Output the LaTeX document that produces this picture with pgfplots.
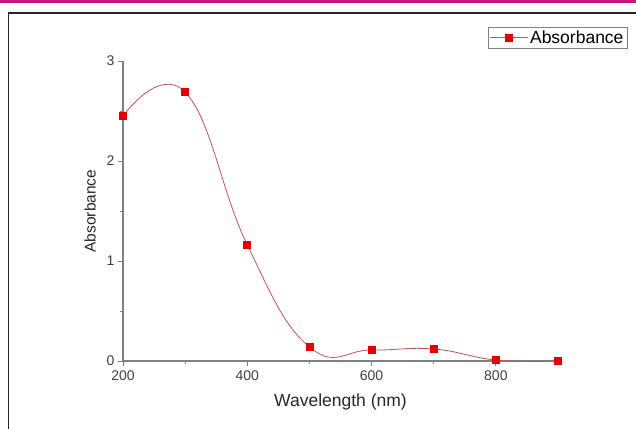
\documentclass[border=0pt]{standalone}
\usepackage{fontspec}
\setmainfont{Liberation Sans}
\usepackage{pgfplots}
\pgfplotsset{compat=1.18}
\definecolor{framepink}{HTML}{C2187A}
\definecolor{linered}{HTML}{C85050}
\definecolor{markred}{HTML}{E80000}
\begin{document}
\begin{tikzpicture}[x=1bp,y=1bp]
\path[use as bounding box] (0,0) rectangle (636,428);
\fill[framepink] (0,425) rectangle (636,427.5);
\draw[black!85, line width=1.3bp] (8.5,-5) -- (8.5,415) -- (641,415);
\begin{axis}[
  at={(123bp,67bp)}, anchor=south west,
  scale only axis, width=435bp, height=300bp,
  xmin=200, xmax=900, ymin=0, ymax=3,
  axis x line*=bottom, axis y line*=left,
  axis line style={-, gray, line width=1.3bp},
  xtick={200,400,600,800}, minor xtick={300,500,700},
  ytick={0,1,2,3}, minor ytick={0.5,1.5,2.5},
  tick align=outside,
  major tick length=5bp, minor tick length=3bp,
  tick style={gray, line width=1bp},
  /pgf/number format/assume math mode=true,
  ticklabel style={font=\fontsize{14bp}{16bp}\selectfont, text=black!75},
  xticklabel style={yshift=-1.5bp},
  xlabel={Wavelength (nm)},
  ylabel={Absorbance},
  xlabel style={font=\fontsize{17.5bp}{20bp}\selectfont, text=black!85, yshift=-6bp},
  ylabel style={font=\fontsize{15.5bp}{18bp}\selectfont, text=black!85, yshift=4bp},
  clip=false,
  legend style={at={(axis description cs:1.159,1.113)}, anchor=north east,
    draw=gray, fill=white, font=\fontsize{17.5bp}{20bp}\selectfont,
    inner sep=1.5bp, row sep=0pt},
  legend cell align=left,
  legend image code/.code={\draw[#1,mark repeat=2,mark phase=2] plot coordinates {(0bp,0bp)(19bp,0bp)(38bp,0bp)};},
]
\addplot[color=linered, line width=0.8bp, smooth, tension=0.75,
  mark=square*, mark size=3.5bp, mark options={fill=markred, draw=markred, solid}]
  coordinates {(200,2.45) (300,2.69) (400,1.16) (500,0.14) (600,0.11) (700,0.12) (800,0.01) (900,0.0)};
\addlegendentry{Absorbance}
\end{axis}
\end{tikzpicture}
\end{document}
